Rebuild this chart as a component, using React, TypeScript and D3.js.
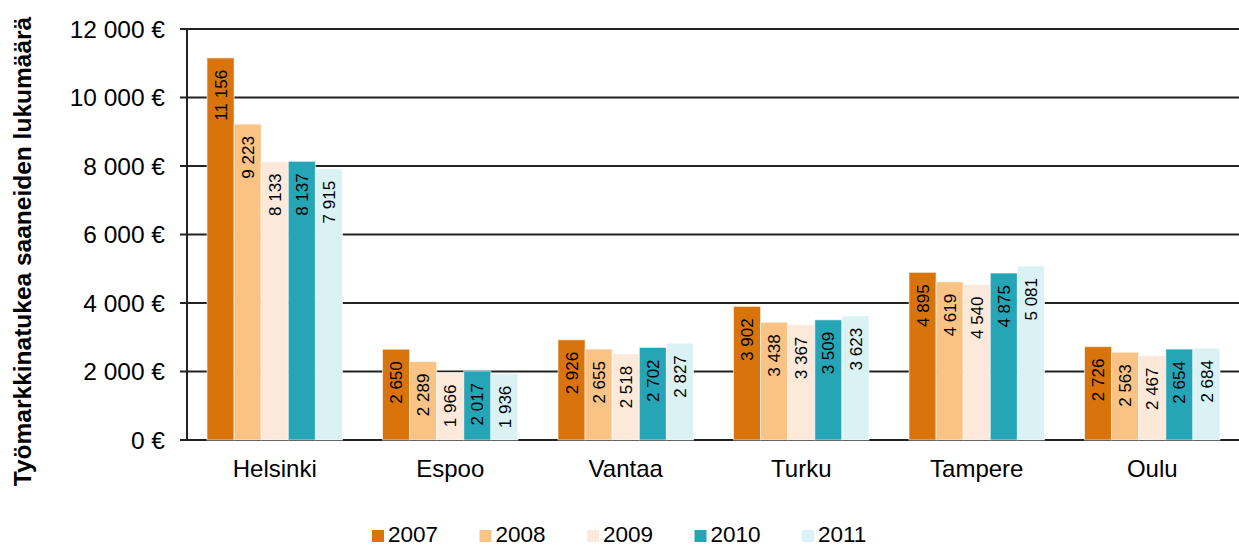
import { useEffect, useRef } from 'react';
import * as d3 from 'd3';

// cities and years
const cities = ['Helsinki', 'Espoo', 'Vantaa', 'Turku', 'Tampere', 'Oulu'];
const years = ['2007', '2008', '2009', '2010', '2011'];
const colors = ['#D8740B', '#F9C386', '#FDE9D9', '#26A5B7', '#DBF2F4'];

// values per year, in city order
const v2007 = [11156, 2650, 2926, 3902, 4895, 2726];
const v2008 = [9223, 2289, 2655, 3438, 4619, 2563];
const v2009 = [8133, 1966, 2518, 3367, 4540, 2467];
const v2010 = [8137, 2017, 2702, 3509, 4875, 2654];
const v2011 = [7915, 1936, 2827, 3623, 5081, 2684];
const series = [v2007, v2008, v2009, v2010, v2011];

const yTicks = [0, 2000, 4000, 6000, 8000, 10000, 12000];
const yTitle = 'Työmarkkinatukea saaneiden lukumäärä';

const width = 1239;
const height = 546;
const font = '"Liberation Sans", Arial, sans-serif';

// 12 000 style numbers
const fmt = (n: number) => d3.format(',')(n).replace(/,/g, ' ');

function App() {
  const ref = useRef<SVGSVGElement>(null);

  useEffect(() => {
    const svg = d3.select(ref.current);
    svg.selectAll('*').remove();

    const x = d3.scaleBand().domain(cities).range([187, 1240]).paddingInner(0).paddingOuter(0);
    const inner = d3.scaleBand().domain(years).range([20, x.bandwidth() - 20]);
    const y = d3.scaleLinear().domain([0, 12000]).range([440, 29]);

    // grid lines
    svg.append('g')
      .selectAll('line')
      .data(yTicks)
      .enter()
      .append('line')
      .attr('x1', 180)
      .attr('x2', 1239)
      .attr('y1', d => y(d))
      .attr('y2', d => y(d))
      .attr('stroke', '#222')
      .attr('stroke-width', 2);

    // tick labels
    svg.append('g')
      .selectAll('text')
      .data(yTicks)
      .enter()
      .append('text')
      .attr('x', 165)
      .attr('y', d => y(d))
      .attr('dy', '0.36em')
      .attr('text-anchor', 'end')
      .style('font-family', font)
      .style('font-size', '24.5px')
      .text(d => fmt(d) + ' €');

    // bars
    series.forEach((vals, si) => {
      const g = svg.append('g');
      vals.forEach((v, ci) => {
        const bx = (x(cities[ci]) as number) + (inner(years[si]) as number);
        const bw = inner.bandwidth();
        g.append('rect')
          .attr('x', bx)
          .attr('y', y(v))
          .attr('width', bw)
          .attr('height', y(0) - y(v))
          .attr('fill', colors[si])
          .attr('stroke', 'rgba(255,255,255,0.6)')
          .attr('stroke-width', 1);
        const cx = bx + bw / 2;
        const ty = y(v) + 12;
        g.append('text')
          .attr('transform', 'translate(' + cx + ',' + ty + ') rotate(-90)')
          .attr('text-anchor', 'end')
          .attr('dy', '0.36em')
          .style('font-family', font)
          .style('font-size', '17px')
          .attr('fill', '#000')
          .text(fmt(v));
      });
    });

    // y axis line
    svg.append('line')
      .attr('x1', 187)
      .attr('x2', 187)
      .attr('y1', y(12000))
      .attr('y2', y(0))
      .attr('stroke', '#222')
      .attr('stroke-width', 2);

    // category labels
    svg.append('g')
      .selectAll('text')
      .data(cities)
      .enter()
      .append('text')
      .attr('x', d => (x(d) as number) + x.bandwidth() / 2)
      .attr('y', 477)
      .attr('text-anchor', 'middle')
      .style('font-family', font)
      .style('font-size', '24px')
      .text(d => d);

    // y title
    svg.append('text')
      .attr('transform', 'translate(31,251.5) rotate(-90)')
      .attr('text-anchor', 'middle')
      .style('font-family', font)
      .style('font-size', '24.5px')
      .style('font-weight', 'bold')
      .text(yTitle);

    // legend
    const leg = svg.append('g');
    years.forEach((yr, i) => {
      const lx = 372 + i * 107.5;
      leg.append('rect')
        .attr('x', lx)
        .attr('y', 530)
        .attr('width', 12)
        .attr('height', 12)
        .attr('fill', colors[i]);
      leg.append('text')
        .attr('x', lx + 16)
        .attr('y', 542)
        .style('font-family', font)
        .style('font-size', '22.5px')
        .text(yr);
    });
  }, []);

  return (
    <svg
      ref={ref}
      width={width}
      height={height}
      style={{ position: 'absolute', left: 0, top: 0, background: '#fff' }}
    />
  );
}

export default App;
